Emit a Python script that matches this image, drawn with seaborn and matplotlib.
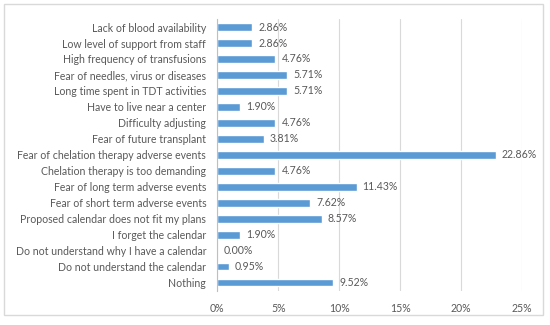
import matplotlib
matplotlib.use('Agg')
import matplotlib.pyplot as plt
import seaborn as sns
import pandas as pd
from matplotlib.patches import Rectangle

categories = ['Lack of blood availability', 'Low level of support from staff',
              'High frequency of transfusions', 'Fear of needles, virus or diseases',
              'Long time spent in TDT activities', 'Have to live near a center',
              'Difficulty adjusting', 'Fear of future transplant',
              'Fear of chelation therapy adverse events', 'Chelation therapy is too demanding',
              'Fear of long term adverse events', 'Fear of short term adverse events',
              'Proposed calendar does not fit my plans', 'I forget the calendar',
              'Do not understand why I have a calendar', 'Do not understand the calendar',
              'Nothing']
values = [2.86, 2.86, 4.76, 5.71, 5.71, 1.90, 4.76, 3.81, 22.86, 4.76,
          11.43, 7.62, 8.57, 1.90, 0.00, 0.95, 9.52]
xticks = [0, 5, 10, 15, 20, 25]
xtick_labels = ['0%', '5%', '10%', '15%', '20%', '25%']

df = pd.DataFrame({'reason': categories, 'pct': values})

sns.set_style('white')
plt.rcParams['font.family'] = ['Lato', 'DejaVu Sans']
txt = '#595959'

fig = plt.figure(figsize=(5.5, 3.25), dpi=100)
ax = fig.add_axes([0.395, 0.105, 0.554, 0.8365])
sns.barplot(data=df, x='pct', y='reason', color='#5B9BD5', saturation=1,
            width=0.45, ax=ax, orient='h')

ax.set_xlim(0, 25)
ax.set_xticks(xticks)
ax.set_xticklabels(xtick_labels)
ax.xaxis.grid(True, color='#D9D9D9', linewidth=0.8)
ax.set_axisbelow(True)
for s in ['top', 'right', 'bottom']:
    ax.spines[s].set_visible(False)
ax.spines['left'].set_color('#BFBFBF')
ax.spines['left'].set_linewidth(0.8)
ax.tick_params(axis='both', length=0, labelsize=7.6, colors=txt, pad=8)
ax.tick_params(axis='x', pad=9)
ax.set_xlabel('')
ax.set_ylabel('')

for i, v in enumerate(values):
    ax.text(v + 0.5, i, f'{v:.2f}%', va='center', ha='left', fontsize=7.6, color=txt)

# light frame round the chart area
fig.patches.append(Rectangle((0.007, 0.031), 0.98, 0.957, transform=fig.transFigure,
                             fill=False, edgecolor='#D9D9D9', linewidth=1))

fig.savefig('out.png', dpi=100)
